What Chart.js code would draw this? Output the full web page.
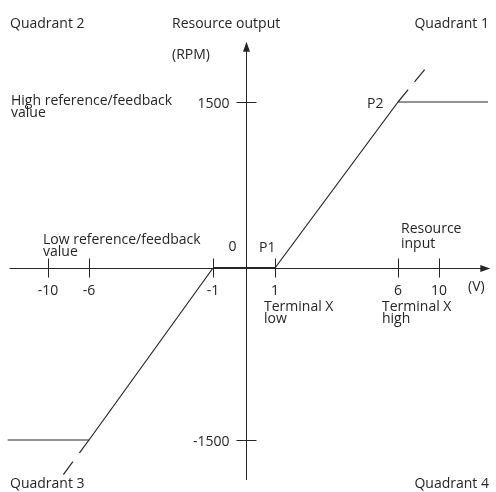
<!DOCTYPE html>
<html>
<head>
<meta charset="utf-8">
<script src="https://cdn.jsdelivr.net/npm/chart.js@4.4.1/dist/chart.umd.min.js"></script>
<style>
  body { margin: 0; background: #fff; }
  #wrap { width: 496px; height: 492px; }
</style>
</head>
<body>
<div id="wrap"><canvas id="myChart" width="496" height="492"></canvas></div>
<script>
// Transfer curve: input in V, output in RPM
const riseInput = [1, 6, 12.15];
const riseOutput = [0, 1500, 1500];
const fallInput = [-1, -6, -12.1];
const fallOutput = [0, -1500, -1500];
const deadInput = [-1, 1];
const deadOutput = [0, 0];
const riseExtInput = [6, 8.73];
const riseExtOutput = [1500, 1667];
const fallExtInput = [-6, -8.54];
const fallExtOutput = [-1500, -1837];

// Tick labels
const xTicks = [-10, -6, -1, 1, 6, 10];
const yTicks = [-1500, 1500];

const ink = '#262626';
const font = '14px "Open Sans", sans-serif';

// The drawing is schematic: the axes are not to scale, so each axis is
// stretched piecewise between these knots (value -> layout unit)
const axisKnots = {
  x: { v: [-12.5, -10, -6, -1, 0, 1, 6, 10, 12.5], u: [-246, -198, -157, -33, 0, 29, 152, 193, 250] },
  y: { v: [-2000, -1500, 0, 1500, 2000], u: [-224, -172, 0, 166, 268] }
};

function interp(val, xs, ys) {
  let i = 1;
  while (i < xs.length - 1 && val > xs[i]) i++;
  return ys[i - 1] + (val - xs[i - 1]) * (ys[i] - ys[i - 1]) / (xs[i] - xs[i - 1]);
}

class SchematicScale extends Chart.LinearScale {
  getPixelForValue(value) {
    const k = axisKnots[this.id];
    const u0 = k.u[0], u1 = k.u[k.u.length - 1];
    return this.getPixelForDecimal((interp(value, k.v, k.u) - u0) / (u1 - u0));
  }
  getValueForPixel(pixel) {
    const k = axisKnots[this.id];
    const u0 = k.u[0], u1 = k.u[k.u.length - 1];
    return interp(u0 + this.getDecimalForPixel(pixel) * (u1 - u0), k.u, k.v);
  }
}
SchematicScale.id = 'schematic';
SchematicScale.defaults = Object.assign({}, Chart.LinearScale.defaults);
Chart.register(SchematicScale);

function points(xs, ys) {
  return xs.map((x, i) => ({ x: x, y: ys[i] }));
}

function text(ctx, str, x, y, align) {
  ctx.textAlign = align || 'left';
  ctx.fillText(str, x, y);
}

// axes, arrows, ticks and all labels
const diagramPlugin = {
  id: 'diagram',
  beforeDatasetsDraw(chart) {
    const ctx = chart.ctx;
    const sx = chart.scales.x, sy = chart.scales.y;
    const x0 = Math.round(sx.getPixelForValue(0)) + 0.5;
    const y0 = Math.round(sy.getPixelForValue(0)) + 0.5;
    const xL = sx.getPixelForValue(-12), xR = sx.getPixelForValue(12.25);
    const yT = sy.getPixelForValue(1795), yB = sy.getPixelForValue(-1885);

    ctx.save();
    ctx.strokeStyle = ink;
    ctx.fillStyle = ink;
    ctx.lineWidth = 1;

    ctx.beginPath();
    ctx.moveTo(xL, y0); ctx.lineTo(xR - 6, y0);
    ctx.moveTo(x0, yB); ctx.lineTo(x0, yT + 6);
    xTicks.forEach(v => {
      const px = Math.round(sx.getPixelForValue(v)) + 0.5;
      ctx.moveTo(px, y0 - 10); ctx.lineTo(px, y0 + 9);
    });
    yTicks.forEach(v => {
      const py = Math.round(sy.getPixelForValue(v)) + 0.5;
      ctx.moveTo(x0 - 10, py); ctx.lineTo(x0 + 10, py);
    });
    ctx.stroke();

    // arrow heads
    ctx.beginPath();
    ctx.moveTo(xR, y0); ctx.lineTo(xR - 10, y0 - 3.5); ctx.lineTo(xR - 10, y0 + 3.5);
    ctx.closePath();
    ctx.moveTo(x0, yT); ctx.lineTo(x0 - 3.5, yT + 10); ctx.lineTo(x0 + 3.5, yT + 10);
    ctx.closePath();
    ctx.fill();

    ctx.font = font;
    ctx.textBaseline = 'alphabetic';

    xTicks.forEach(v => text(ctx, String(v), sx.getPixelForValue(v), y0 + 26, 'center'));
    yTicks.forEach(v => text(ctx, String(v), x0 - 17, sy.getPixelForValue(v) + 6, 'right'));

    const p1x = sx.getPixelForValue(1), p2x = sx.getPixelForValue(6);
    const p2y = sy.getPixelForValue(1500);
    text(ctx, 'P1', p1x - 16, y0 - 17);
    text(ctx, 'P2', p2x - 31, p2y + 6);
    text(ctx, '0', x0 - 18, y0 - 18);
    text(ctx, 'Terminal X', p1x - 11, y0 + 42);
    text(ctx, 'low', p1x - 11, y0 + 54);
    text(ctx, 'Terminal X', p2x - 16, y0 + 42);
    text(ctx, 'high', p2x - 16, y0 + 54);
    text(ctx, '(V)', 468, y0 + 22);
    text(ctx, 'Resource', 401, y0 - 36);
    text(ctx, 'input', 401, y0 - 21);
    text(ctx, 'Low reference/feedback', 43, y0 - 25);
    text(ctx, 'value', 43, y0 - 13);
    text(ctx, 'High reference/feedback', 11, p2y + 3);
    text(ctx, 'value', 11, p2y + 15);
    text(ctx, 'Resource output', 172, 28);
    text(ctx, '(RPM)', 172, 59);
    text(ctx, 'Quadrant 2', 10, 28);
    text(ctx, 'Quadrant 1', 489, 28, 'right');
    text(ctx, 'Quadrant 3', 10, 488);
    text(ctx, 'Quadrant 4', 489, 488, 'right');
    ctx.restore();
  }
};

const ctx = document.getElementById('myChart').getContext('2d');
const chart = new Chart(ctx, {
  type: 'scatter',
  data: {
    datasets: [
      { data: points(riseInput, riseOutput), borderColor: ink, borderWidth: 1.2 },
      { data: points(fallInput, fallOutput), borderColor: ink, borderWidth: 1.2 },
      { data: points(deadInput, deadOutput), borderColor: ink, borderWidth: 2.2 },
      { data: points(riseExtInput, riseExtOutput), borderColor: ink, borderWidth: 1.2, borderDash: [16, 10] },
      { data: points(fallExtInput, fallExtOutput), borderColor: ink, borderWidth: 1.2, borderDash: [16, 11] }
    ]
  },
  options: {
    responsive: false,
    animation: false,
    layout: { padding: 0 },
    datasets: {
      scatter: {
        showLine: true,
        pointRadius: 0,
        fill: false,
        tension: 0
      }
    },
    scales: {
      x: { type: 'schematic', min: -12.5, max: 12.5, display: false },
      y: { type: 'schematic', min: -2000, max: 2000, display: false }
    },
    plugins: {
      legend: { display: false },
      tooltip: { enabled: false }
    }
  },
  plugins: [diagramPlugin]
});
</script>
</body>
</html>
